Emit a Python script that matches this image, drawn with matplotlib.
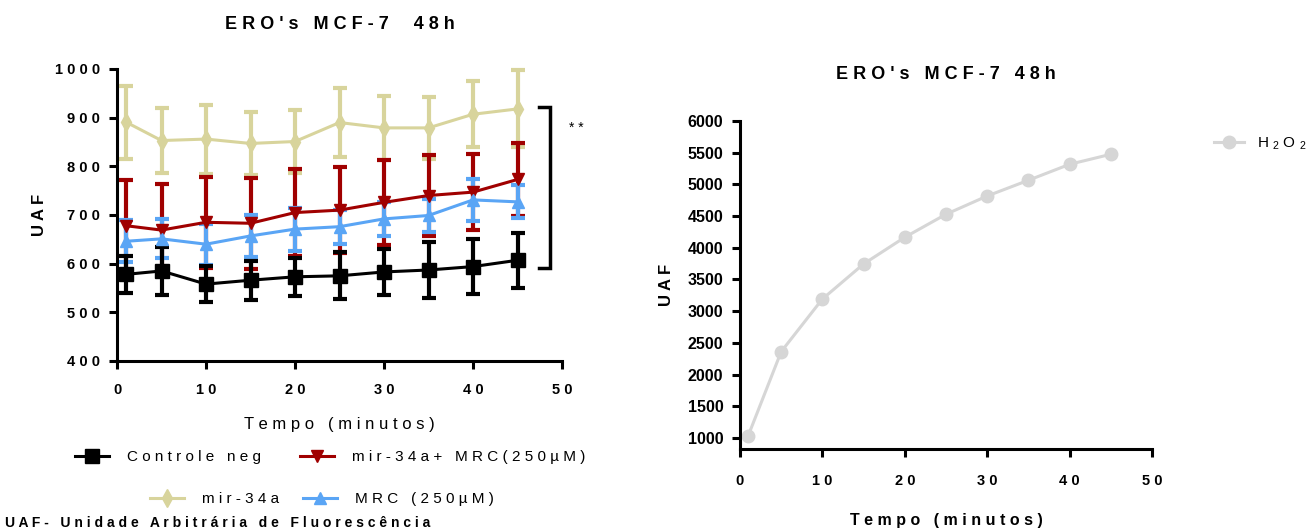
import numpy as np
import matplotlib.pyplot as plt

plt.rcParams['font.family'] = ['Liberation Sans', 'DejaVu Sans']
plt.rcParams['mathtext.default'] = 'regular'

# tempo (min)
tempo = [1, 5, 10, 15, 20, 25, 30, 35, 40, 45]

# UAF medias e desvios
controle = [578, 585, 558, 566, 573, 575, 583, 587, 594, 607]
controle_err = [38, 50, 37, 40, 39, 48, 48, 58, 57, 57]
mir34a = [891, 853, 856, 847, 851, 890, 879, 879, 907, 918]
mir34a_err = [75, 67, 71, 65, 65, 70, 65, 63, 68, 79]
mir_mrc = [678, 669, 685, 683, 705, 710, 726, 740, 747, 773]
mir_mrc_err = [94, 95, 94, 93, 90, 88, 88, 83, 78, 75]
mrc = [646, 651, 640, 657, 671, 676, 692, 699, 731, 727]
mrc_err = [43, 40, 42, 43, 44, 35, 35, 33, 44, 34]

# H2O2
h2o2 = [1037, 2362, 3192, 3745, 4166, 4529, 4817, 5065, 5317, 5475]

C_BLACK = '#000000'
C_RED = '#A00000'
C_YEL = '#D8D49C'
C_BLUE = '#5AA5F5'
C_GRAY = '#D6D6D6'


def sp(s):
    # espaçamento entre letras
    return ' '.join(s)


fig = plt.figure(figsize=(13.12, 5.32), dpi=100)
ax1 = fig.add_axes([117/1312, 1-361/532, 445/1312, 292/532])
ax2 = fig.add_axes([740/1312, 1-449/532, 412/1312, 328/532])

series = [
    (mir34a, mir34a_err, C_YEL, 'd', 9, 'mir-34a'),
    (mir_mrc, mir_mrc_err, C_RED, 'v', 9, 'mir-34a+ MRC(250µM)'),
    (mrc, mrc_err, C_BLUE, '^', 9, 'MRC (250µM)'),
    (controle, controle_err, C_BLACK, 's', 10, 'Controle neg'),
]
handles = {}
for y, e, c, m, ms, lab in series:
    cont = ax1.errorbar(tempo, y, yerr=e, color=c, marker=m, ms=ms, lw=2.2,
                        elinewidth=3, capsize=5, capthick=3, clip_on=False)
    for art in cont.get_children():
        art.set_clip_on(False)
    handles[lab] = cont.lines[0]

ax1.set_xlim(0, 50)
ax1.set_ylim(400, 1000)
ax1.set_xticks(range(0, 51, 10))
ax1.set_yticks(range(400, 1001, 100))
ax1.set_xticklabels([sp(str(v)) for v in range(0, 51, 10)])
ax1.set_yticklabels([sp(str(v)) for v in range(400, 1001, 100)])
ax1.set_xlabel(sp('Tempo (minutos)'), fontsize=12, labelpad=14)
ax1.set_ylabel(sp('UAF'), fontsize=12, fontweight='bold', labelpad=6)
ax1.set_title(sp("ERO's MCF-7  48h"), fontsize=13, fontweight='bold', pad=29)

# colchete de significancia
ax1.plot([47.4, 48.6, 48.6, 47.4], [922, 922, 591, 591], color='black',
         lw=2.5, clip_on=False, solid_joinstyle='miter')
ax1.text(51.6, 879, '* *', fontsize=10, ha='center', va='center')

ax2.plot(tempo, h2o2, color=C_GRAY, marker='o', ms=9, lw=2.2, clip_on=False,
         label=sp('H') + ' $_2$ ' + sp('O') + ' $_2$')
ax2.set_xlim(0, 50)
ax2.set_ylim(826, 6000)
ax2.set_xticks(range(0, 51, 10))
ax2.set_yticks(range(1000, 6001, 500))
ax2.set_xticklabels([sp(str(v)) for v in range(0, 51, 10)])
ax2.set_yticklabels([str(v) for v in range(1000, 6001, 500)])
ax2.set_xlabel(sp('Tempo (minutos)'), fontsize=11.5, fontweight='bold', labelpad=18)
ax2.set_ylabel(sp('UAF'), fontsize=12, fontweight='bold', labelpad=10)
ax2.set_title(sp("ERO's MCF-7 48h"), fontsize=13, fontweight='bold', pad=30)
ax2.legend(loc='center left', bbox_to_anchor=(1.15, 0.93), frameon=False,
           fontsize=11, handlelength=2, borderpad=0, borderaxespad=0)

for ax in (ax1, ax2):
    for side in ('top', 'right'):
        ax.spines[side].set_visible(False)
    for side in ('left', 'bottom'):
        ax.spines[side].set_linewidth(2.2)
    ax.tick_params(width=2.2, length=6, labelsize=10.5, pad=6)
ax2.tick_params(axis='y', labelsize=11.5)
for ax in (ax1, ax2):
    for t in ax.get_xticklabels() + ax.get_yticklabels():
        t.set_fontweight('bold')
ax1.tick_params(axis='x', pad=10)
ax2.tick_params(axis='x', pad=12)


def put_legend(label, x, y):
    fig.legend(handles=[handles[label]], labels=[sp(label)], loc='center left',
               bbox_to_anchor=(x/1312, 1-y/532), frameon=False, fontsize=11,
               handlelength=2.2, handletextpad=1.2, borderpad=0,
               borderaxespad=0, numpoints=1)


put_legend('Controle neg', 75, 457)
put_legend('mir-34a+ MRC(250µM)', 300, 457)
put_legend('mir-34a', 150, 499)
put_legend('MRC (250µM)', 303, 499)

fig.text(5/1312, 1-523/532, sp('UAF- Unidade Arbitrária de Fluorescência'),
         fontsize=10, fontweight='bold', ha='left', va='center')

fig.savefig('out.png', dpi=100)
